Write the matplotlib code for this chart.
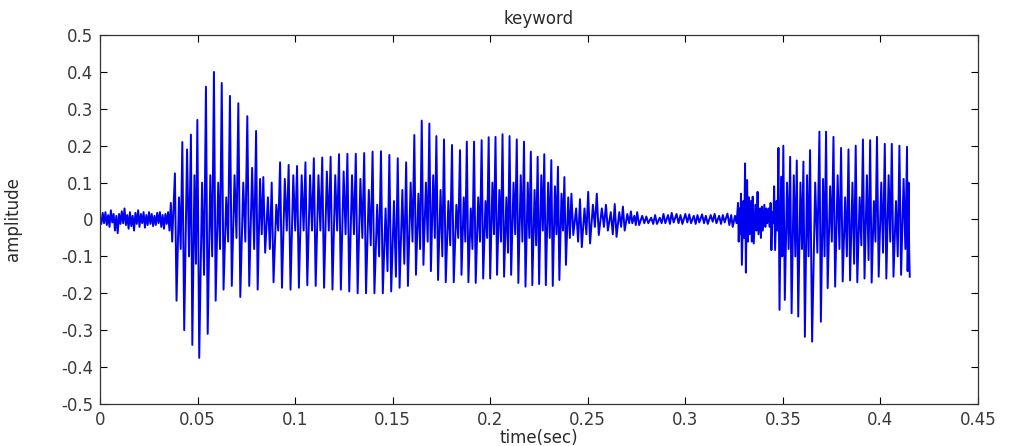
import numpy as np
import matplotlib
matplotlib.use("Agg")
import matplotlib.pyplot as plt

plt.rcParams['font.family'] = ['DejaVu Sans']

# ---- data ----
title = "keyword"
xlabel = "time(sec)"
ylabel = "amplitude"
xticks = [0, 0.05, 0.1, 0.15, 0.2, 0.25, 0.3, 0.35, 0.4, 0.45]
xticklabels = ["0", "0.05", "0.1", "0.15", "0.2", "0.25", "0.3", "0.35", "0.4", "0.45"]
yticks = [-0.5, -0.4, -0.3, -0.2, -0.1, 0, 0.1, 0.2, 0.3, 0.4, 0.5]
yticklabels = ["-0.5", "-0.4", "-0.3", "-0.2", "-0.1", "0", "0.1", "0.2", "0.3", "0.4", "0.5"]

# leading low-level noise (0 .. 0.037 s)
noise_start = 0.0
noise_end = 0.037
noise_vals = [0.005, -0.012, 0.018, -0.01, 0.02, -0.015, 0.012, -0.02, 0.025, -0.008,
              0.015, -0.03, 0.01, -0.037, 0.015, -0.012, 0.022, -0.01, 0.03, -0.015,
              0.012, -0.025, 0.02, -0.018, 0.01, -0.03, 0.018, -0.012, 0.025, -0.02,
              0.015, -0.01, 0.02, -0.022, 0.012, -0.015, 0.02, -0.012, 0.015, -0.018,
              0.01, -0.015, 0.018, -0.01, 0.02, -0.02, 0.012, -0.025, 0.015, -0.012,
              0.02, -0.03, 0.045, -0.06]

# pitch pulses: time, peak, trough, secondary peak, secondary trough
pulse_t = [0.0384, 0.0422, 0.0466, 0.0499, 0.0543, 0.0584, 0.0624, 0.0666, 0.0709, 0.0755,
           0.0800, 0.0837, 0.0880, 0.0923,
           0.0967, 0.1010, 0.1053, 0.1096, 0.1139, 0.1182, 0.1225, 0.1268, 0.1311, 0.1354,
           0.1397, 0.1440, 0.1483, 0.1526, 0.1569,
           0.1611, 0.1649, 0.1688, 0.1724, 0.1763, 0.1804, 0.1845, 0.1880, 0.1917, 0.1956,
           0.1992, 0.2027, 0.2063, 0.2099, 0.2136, 0.2173, 0.2208, 0.2243, 0.2277, 0.2313,
           0.2347, 0.2380, 0.2416, 0.2460, 0.2502, 0.2546, 0.2593, 0.2638, 0.2680, 0.2721,
           0.2753, 0.2800, 0.2845,
           0.2888, 0.2930, 0.2975, 0.3020, 0.3062, 0.3105, 0.3150, 0.3192, 0.3235,
           0.3270, 0.3285, 0.3306, 0.3325, 0.3345, 0.3370, 0.3392, 0.3415, 0.3437,
           0.3455, 0.3477, 0.3502, 0.3537, 0.3571, 0.3605, 0.3639, 0.3687, 0.3721, 0.3759,
           0.3798, 0.3836, 0.3873, 0.3910, 0.3947, 0.3982, 0.4022, 0.4058, 0.4097, 0.4136]
pulse_hi = [0.125, 0.21, 0.23, 0.27, 0.36, 0.40, 0.37, 0.335, 0.315, 0.28,
            0.24, 0.115, 0.10, 0.155,
            0.148, 0.145, 0.155, 0.166, 0.168, 0.17, 0.177, 0.178, 0.178, 0.18,
            0.184, 0.185, 0.175, 0.166, 0.155,
            0.229, 0.268, 0.26, 0.226, 0.217, 0.202, 0.188, 0.211, 0.211, 0.215,
            0.223, 0.224, 0.231, 0.226, 0.217, 0.211, 0.184, 0.17, 0.177, 0.161,
            0.143, 0.115, 0.07, 0.055, 0.075, 0.07, 0.04, 0.042, 0.035, 0.022,
            0.02, 0.008, 0.012,
            0.015, 0.018, 0.012, 0.014, 0.012, 0.01, 0.015, 0.012, 0.012,
            0.045, 0.07, 0.152, 0.06, 0.062, 0.075, 0.035, 0.03, 0.045,
            0.09, 0.194, 0.2, 0.17, 0.16, 0.157, 0.188, 0.238, 0.238, 0.224,
            0.194, 0.19, 0.2, 0.217, 0.215, 0.224, 0.205, 0.205, 0.2, 0.197]
pulse_lo = [-0.22, -0.30, -0.34, -0.375, -0.31, -0.22, -0.19, -0.18, -0.21, -0.18,
            -0.19, -0.09, -0.17, -0.185,
            -0.19, -0.185, -0.178, -0.18, -0.185, -0.19, -0.19, -0.195, -0.2, -0.2,
            -0.2, -0.2, -0.195, -0.185, -0.18,
            -0.15, -0.123, -0.14, -0.164, -0.17, -0.17, -0.15, -0.17, -0.172, -0.16,
            -0.16, -0.15, -0.155, -0.15, -0.172, -0.182, -0.178, -0.175, -0.178, -0.18,
            -0.164, -0.123, -0.042, -0.075, -0.065, -0.042, -0.03, -0.047, -0.03, -0.01,
            -0.015, -0.01, -0.012,
            -0.01, -0.008, -0.012, -0.01, -0.008, -0.012, -0.01, -0.008, -0.02,
            -0.06, -0.123, -0.144, -0.04, -0.065, -0.04, -0.03, -0.01, -0.083,
            -0.083, -0.245, -0.218, -0.254, -0.263, -0.318, -0.331, -0.277, -0.186, -0.182,
            -0.168, -0.165, -0.17, -0.16, -0.171, -0.155, -0.16, -0.155, -0.15, -0.14]
pulse_mhi = [0.06, 0.19, 0.12, 0.10, 0.12, 0.10, 0.06, 0.12, 0.10, 0.14,
             0.11, 0.06, 0.04, 0.11,
             0.12, 0.12, 0.12, 0.12, 0.13, 0.12, 0.13, 0.12, 0.11, 0.08,
             0.04, 0.03, 0.05, 0.08, 0.10,
             0.07, 0.10, 0.12, 0.08, 0.05, 0.04, 0.06, 0.03, 0.06, 0.05,
             0.10, 0.08, 0.06, 0.10, 0.12, 0.10, 0.08, 0.12, 0.10, 0.09,
             0.07, 0.06, 0.03, 0.03, 0.04, 0.03, 0.02, 0.02, 0.015, 0.01,
             0.01, 0.005, 0.005,
             0.012, 0.015, 0.015, 0.01, 0.014, 0.012, 0.01, 0.016, 0.01,
             0.03, 0.05, 0.107, 0.05, 0.04, 0.03, 0.04, 0.03, 0.02,
             0.05, 0.116, 0.10, 0.12, 0.10, 0.12, 0.10, 0.11, 0.09, 0.12,
             0.06, 0.10, 0.06, 0.12, 0.05, 0.10, 0.12, 0.05, 0.11, 0.10]
pulse_mlo = [-0.08, -0.10, -0.12, -0.15, -0.10, -0.08, -0.06, -0.05, -0.06, -0.08,
             -0.04, -0.08, -0.03, -0.03,
             -0.03, -0.03, -0.03, -0.03, -0.03, -0.03, -0.04, -0.04, -0.05, -0.07,
             -0.10, -0.14, -0.155, -0.12, -0.06,
             -0.08, -0.06, -0.05, -0.10, -0.07, -0.05, -0.06, -0.08, -0.06, -0.05,
             -0.04, -0.06, -0.09, -0.04, -0.06, -0.05, -0.07, -0.03, -0.05, -0.04,
             -0.03, -0.05, -0.06, -0.04, -0.02, -0.02, -0.04, -0.02, -0.01, -0.015,
             -0.01, -0.012, -0.01,
             -0.012, -0.01, -0.008, -0.012, -0.01, -0.006, -0.012, -0.015, -0.01,
             -0.04, -0.05, -0.06, -0.06, -0.03, -0.05, -0.02, -0.02, -0.01,
             -0.03, -0.10, -0.08, -0.10, -0.08, -0.10, -0.09, -0.10, -0.06, -0.08,
             -0.10, -0.12, -0.07, -0.11, -0.06, -0.09, -0.06, -0.10, -0.08, -0.08]
end_t = 0.4150
end_val = -0.155

# ---- build the trace from the read values ----
t_pts = list(np.linspace(noise_start, noise_end, len(noise_vals)))
v_pts = list(noise_vals)
offsets = [0.0, 0.22, 0.55, 0.78]
for i in range(len(pulse_t)):
    t0 = pulse_t[i]
    t1 = pulse_t[i + 1] if i + 1 < len(pulse_t) else end_t
    dt = t1 - t0
    vals = [pulse_hi[i], pulse_lo[i], pulse_mhi[i], pulse_mlo[i]]
    for f, v in zip(offsets, vals):
        t_pts.append(t0 + f * dt)
        v_pts.append(v)
t_pts.append(end_t)
v_pts.append(end_val)

# ---- figure ----
fig = plt.figure(figsize=(10.13, 4.46), dpi=100)
ax = fig.add_axes([0.0987, 0.0942, 0.8668, 0.8273])
ax.plot(t_pts, v_pts, color='#0000f0', linewidth=1.4)

ax.set_xlim(0, 0.45)
ax.set_ylim(-0.5, 0.5)
ax.set_xticks(xticks)
ax.set_xticklabels(xticklabels)
ax.set_yticks(yticks)
ax.set_yticklabels(yticklabels)
ax.tick_params(direction='in', length=5, width=0.8, top=True, right=True,
               labelsize=12, labelcolor='#3a3a3a', pad=5)
for s in ax.spines.values():
    s.set_linewidth(0.9)
    s.set_color('#333333')

ax.set_title(title, fontsize=12, color='#2a2a2a', pad=8)
ax.set_xlabel(xlabel, fontsize=12, color='#2a2a2a', labelpad=0)
ax.set_ylabel(ylabel, fontsize=12, color='#2a2a2a', labelpad=28)

fig.savefig("out.png", dpi=100)
